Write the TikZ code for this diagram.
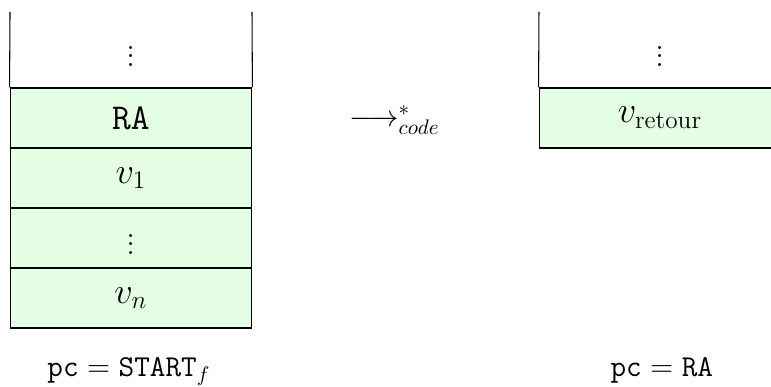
\documentclass[tikz,border=0pt]{standalone}
\usepackage{amsmath}
\definecolor{cellgreen}{rgb}{0.9,1,0.9}
\tikzset{
  cell/.style={draw=black, fill=cellgreen, minimum width=4.03cm, minimum height=1cm, inner sep=0pt, font=\LARGE, line width=0.5pt},
  lbl/.style={font=\Large, anchor=base}
}
\begin{document}
\begin{tikzpicture}
\useasboundingbox (0,0) rectangle (12.85,-6.45);
% left stack
\coordinate (ltl) at (0.167,-0.2);
\coordinate (ltr) at (4.2,-0.2);
\node[cell] (ra) at (2.183,-1.967) {$\mathtt{RA}$};
\node[cell] (v1) at (2.183,-2.967) {$v_1$};
\node[cell] (vd) at (2.183,-3.967) {$\vdots$};
\node[cell] (vn) at (2.183,-4.967) {$v_n$};
\draw[line width=0.5pt] (ltl) -- (ra.north west);
\draw[line width=0.5pt] (ltr) -- (ra.north east);
\node[font=\LARGE] (ldots) at (2.183,-0.83) {$\vdots$};
% arrow label
\node[font=\Large] (arr) at (6.58,-2.0) {$\longrightarrow^*_{code}$};
% right stack
\node[cell] (ret) at (11.0,-1.967) {$v_{\text{retour}}$};
\coordinate (rtl) at (8.983,-0.2);
\coordinate (rtr) at (13.017,-0.2);
\draw[line width=0.5pt] (rtl) -- (ret.north west);
\draw[line width=0.5pt] (rtr) -- (ret.north east);
\node[font=\LARGE] (rdots) at (11.0,-0.83) {$\vdots$};
% pc labels
\node[lbl] (pcl) at (2.15,-6.28) {$\mathtt{pc} = \mathtt{START}_f$};
\node[lbl] (pcr) at (11.03,-6.28) {$\mathtt{pc} = \mathtt{RA}$};
\end{tikzpicture}
\end{document}
